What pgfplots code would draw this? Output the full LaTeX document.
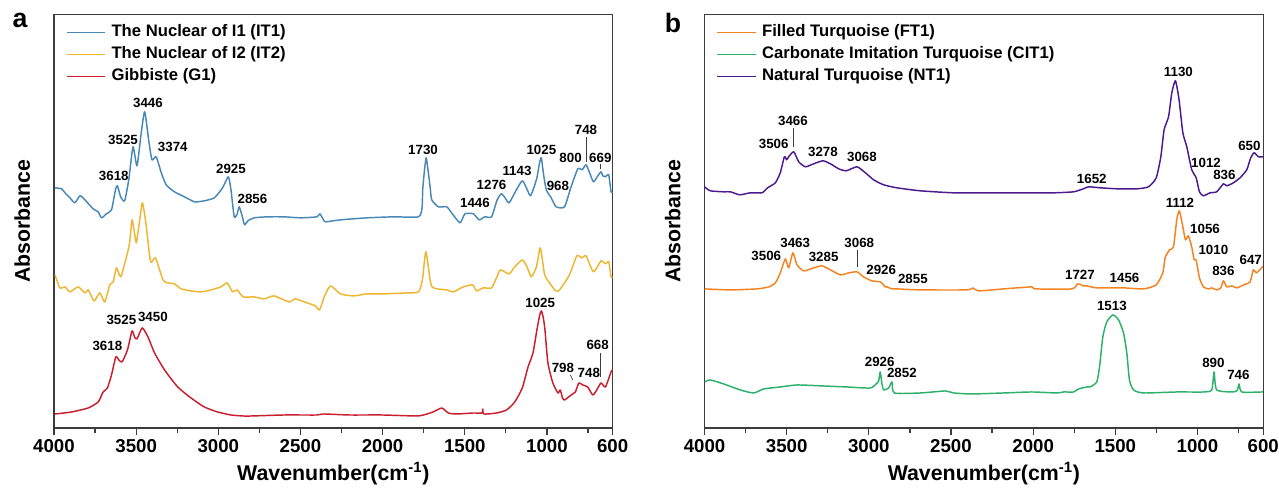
\documentclass[border=0pt]{standalone}
\usepackage{fontspec}
\setmainfont{Liberation Sans}
\usepackage{pgfplots}
\pgfplotsset{compat=1.18}
\definecolor{cIT1}{RGB}{72,136,184}
\definecolor{cIT2}{RGB}{238,182,48}
\definecolor{cG1}{RGB}{200,30,45}
\definecolor{cFT1}{RGB}{245,130,32}
\definecolor{cCIT}{RGB}{45,176,106}
\definecolor{cNT1}{RGB}{75,26,140}
\definecolor{frame}{RGB}{60,60,60}

\pgfplotsset{
  ftir/.style={
    scale only axis, width=419pt, height=310pt,
    xmin=600, xmax=4000, x dir=reverse, ymin=0, ymax=413,
    ytick=\empty,
    xtick={4000,3500,3000,2500,2000,1500,1000,600},
    minor xtick={3750,3250,2750,2250,1750,1250,750},
    xtick pos=lower, tick align=outside,
    major tick length=5pt, minor tick length=3.5pt,
    axis line style={line width=1pt, frame},
    every tick/.style={line width=0.9pt, frame},
    ticklabel style={font=\fontsize{14}{16}\selectfont\bfseries},
    /pgf/number format/assume math mode=true,
    /pgf/number format/1000 sep={},
    xlabel={Wavenumber(cm\textsuperscript{-1})},
    ylabel={Absorbance},
    label style={font=\fontsize{16}{18}\selectfont\bfseries},
    ylabel style={at={(axis description cs:-0.057,0.5)}, anchor=center},
    legend style={at={(0.014,0.983)}, anchor=north west, draw=none, fill=none,
      font=\fontsize{12.5}{14}\selectfont\bfseries, row sep=4.8pt, column sep=3pt,
      nodes={inner ysep=0pt, inner xsep=1pt, text height=9pt, text depth=2.7pt}},
    legend cell align=left,
    legend image code/.code={\draw[#1, line width=1.1pt] (0pt,0pt) -- (29pt,0pt);},
    every axis plot/.append style={line width=1.1pt, line join=round, smooth, tension=0.35},
  },
}
\tikzset{lbl/.style={font=\fontsize{10}{12}\selectfont\bfseries, inner sep=0pt}}

\begin{document}
\begin{tikzpicture}
\useasboundingbox (0pt,0pt) rectangle (959.25pt,-374.25pt);

\node[font=\fontsize{20}{22}\selectfont\bfseries] at (15pt,-15pt) {a};
\node[font=\fontsize{20}{22}\selectfont\bfseries] at (504.75pt,-17pt) {b};

% panel a
\begin{axis}[ftir, at={(40.5pt,-321pt)}, anchor=south west]
\addplot[cIT1] coordinates {
(3994,240)(3954,239)(3933,235)(3903,230)(3873,225)(3842,232)(3812,228)(3762,219)
(3731,216)(3711,210)(3681,214)(3650,218)(3626,238)(3614,242)(3594,231)(3570,227)
(3545,248)(3519,281)(3495,262)(3469,295)(3448,316)(3424,288)(3404,268)(3378,271)
(3347,255)(3317,243)(3267,236)(3206,231)(3145,226)(3085,227)(3024,230)(2974,240)
(2939,251)(2923,238)(2903,211)(2885,214)(2873,221)(2855,212)(2840,203)(2820,207)
(2782,210)(2701,211)(2600,211)(2499,210)(2400,211)(2382,214)(2360,208)(2347,206)
(2256,208)(2095,210)(1933,211)(1782,211)(1760,220)(1756,238)(1745,258)(1735,270)
(1724,258)(1711,241)(1701,228)(1661,221)(1610,221)(1580,215)(1529,205)(1499,214)
(1448,214)(1412,208)(1378,211)(1337,211)(1303,228)(1277,234)(1255,230)(1230,225)
(1186,238)(1150,247)(1125,240)(1101,232)(1080,240)(1061,250)(1045,265)(1034,270)
(1022,255)(1004,238)(974,230)(944,221)(893,221)(853,241)(812,259)(786,258)
(762,263)(740,255)(717,246)(690,252)(671,256)(660,252)(644,251)(624,253)
(610,236)(600,236)};
\addplot[cIT2] coordinates {
(3994,153)(3964,140)(3933,141)(3903,136)(3853,141)(3812,135)(3792,138)(3756,127)
(3721,135)(3691,126)(3661,143)(3640,146)(3620,160)(3594,151)(3559,171)(3540,185)
(3525,208)(3510,195)(3499,185)(3485,200)(3463,225)(3450,215)(3438,201)(3412,166)
(3382,170)(3337,148)(3307,145)(3267,144)(3226,139)(3166,137)(3105,136)(3044,138)
(2984,141)(2947,145)(2913,136)(2887,138)(2848,131)(2782,131)(2721,129)(2661,132)
(2570,126)(2531,129)(2459,125)(2409,122)(2384,118)(2353,132)(2317,142)(2256,134)
(2176,132)(2095,134)(1994,134)(1853,135)(1782,136)(1758,148)(1737,176)(1711,148)
(1699,141)(1669,139)(1610,138)(1570,136)(1509,141)(1453,143)(1428,137)(1388,140)
(1337,140)(1307,150)(1283,158)(1230,154)(1196,161)(1150,168)(1121,161)(1095,151)
(1064,161)(1040,180)(1014,153)(984,145)(947,137)(923,138)(863,153)(818,172)
(786,170)(762,172)(717,156)(671,167)(644,164)(624,166)(610,151)(600,151)};
\addplot[cG1] coordinates {
(3994,14)(3893,16)(3792,20)(3731,26)(3701,36)(3675,40)(3650,53)(3624,71)
(3605,68)(3586,66)(3553,78)(3525,97)(3510,91)(3495,89)(3463,100)(3428,91)
(3388,75)(3327,58)(3247,41)(3166,30)(3085,21)(3004,16)(2923,13)(2848,12)
(2800,12)(2600,13)(2400,13)(2360,14)(2200,13)(2000,13)(1800,12)(1751,13)
(1693,16)(1640,20)(1600,15)(1549,14)(1448,15)(1395,15)(1390,19)(1384,14)
(1307,15)(1246,18)(1196,26)(1150,40)(1115,61)(1085,75)(1061,98)(1045,112)
(1034,117)(1022,110)(1012,98)(994,65)(964,45)(933,35)(919,38)(905,30)
(893,28)(853,33)(827,36)(806,45)(782,43)(752,41)(721,33)(697,38)
(671,45)(644,41)(610,56)(600,58)};
\legend{The Nuclear of I1 (IT1), The Nuclear of I2 (IT2), Gibbiste (G1)}
% peak labels
\node[lbl] at (axis cs:3428,325) {3446};
\node[lbl] at (axis cs:3580,288) {3525};
\node[lbl] at (axis cs:3277,281) {3374};
\node[lbl] at (axis cs:3636,252) {3618};
\node[lbl] at (axis cs:2923,259) {2925};
\node[lbl] at (axis cs:2792,229) {2856};
\node[lbl] at (axis cs:1754,278) {1730};
\node[lbl] at (axis cs:1438,225) {1446};
\node[lbl] at (axis cs:1337,243) {1276};
\node[lbl] at (axis cs:1182,257) {1143};
\node[lbl] at (axis cs:1034,278) {1025};
\node[lbl] at (axis cs:933,242) {968};
\node[lbl] at (axis cs:856,270) {800};
\node[lbl] at (axis cs:762,298) {748};
\draw[frame, line width=0.5pt] (axis cs:762,291) -- (axis cs:762,266);
\node[lbl] at (axis cs:675,270) {669};
\draw[frame, line width=0.5pt] (axis cs:675,264) -- (axis cs:675,259);
\node[lbl] at (axis cs:3675,82) {3618};
\node[lbl] at (axis cs:3590,108) {3525};
\node[lbl] at (axis cs:3398,111) {3450};
\node[lbl] at (axis cs:1041,125) {1025};
\node[lbl] at (axis cs:903,60) {798};
\draw[frame, line width=0.5pt] (axis cs:858,53) -- (axis cs:843,48);
\node[lbl] at (axis cs:745,55) {748};
\node[lbl] at (axis cs:691,83) {668};
\draw[frame, line width=0.5pt] (axis cs:675,75) -- (axis cs:675,51);
\end{axis}

% panel b
\begin{axis}[ftir, at={(528.4pt,-321pt)}, anchor=south west]
\addplot[cFT1] coordinates {
(4000,139)(3842,138)(3680,139)(3609,141)(3569,145)(3539,155)(3508,169)(3488,160)
(3462,175)(3437,163)(3396,157)(3336,160)(3285,162)(3234,158)(3173,153)(3123,155)
(3072,156)(3032,151)(2981,147)(2930,146)(2900,141)(2890,141)(2859,139)(2829,139)
(2687,138)(2403,138)(2367,140)(2333,137)(2181,139)(2008,141)(1988,139)(1765,139)
(1730,144)(1694,142)(1673,142)(1612,140)(1450,140)(1328,139)(1251,143)(1211,155)
(1197,170)(1170,178)(1146,181)(1126,208)(1110,217)(1089,201)(1073,188)(1055,192)
(1035,181)(1020,168)(1008,168)(988,150)(964,141)(933,139)(913,140)(883,138)
(858,140)(842,147)(822,141)(791,142)(761,140)(720,143)(680,146)(660,158)
(640,155)(605,161)(600,162)};
\addplot[cCIT] coordinates {
(4000,46)(3965,48)(3883,44)(3782,38)(3701,35)(3640,39)(3539,41)(3437,43)
(3275,42)(3133,41)(2991,40)(2950,45)(2940,47)(2931,56)(2920,44)(2910,38)
(2880,40)(2859,46)(2845,35)(2687,35)(2535,37)(2484,35)(2373,34)(2181,35)
(2008,36)(1856,35)(1815,36)(1754,36)(1724,39)(1673,41)(1653,41)(1613,46)
(1596,61)(1576,91)(1552,106)(1515,113)(1480,108)(1450,95)(1430,75)(1414,48)
(1389,38)(1328,35)(1126,36)(964,36)(913,38)(899,56)(883,38)(781,36)
(757,38)(747,44)(730,36)(605,36)(600,36)};
\addplot[cNT1] coordinates {
(4000,241)(3965,237)(3883,236)(3842,236)(3786,233)(3721,235)(3650,235)(3616,240)
(3569,245)(3539,255)(3514,271)(3500,268)(3488,271)(3457,276)(3427,266)(3386,261)
(3336,264)(3279,267)(3234,264)(3184,259)(3137,257)(3072,261)(3021,255)(2971,248)
(2910,243)(2829,240)(2687,237)(2484,235)(2282,235)(2079,235)(1876,235)(1754,236)
(1694,239)(1663,241)(1592,240)(1491,239)(1369,239)(1298,241)(1251,250)(1223,271)
(1203,298)(1176,311)(1156,335)(1134,347)(1112,328)(1089,295)(1065,281)(1035,258)
(1008,250)(988,236)(964,232)(923,235)(883,236)(842,244)(822,242)(781,245)
(741,250)(700,258)(676,270)(655,275)(629,271)(605,271)(600,271)};
\legend{Filled Turquoise (FT1), Carbonate Imitation Turquoise (CIT1), Natural Turquoise (NT1)}
\node[lbl] at (axis cs:3462,307) {3466};
\draw[frame, line width=0.5pt] (axis cs:3462,300) -- (axis cs:3462,281);
\node[lbl] at (axis cs:3579,284) {3506};
\node[lbl] at (axis cs:3279,276) {3278};
\node[lbl] at (axis cs:3042,271) {3068};
\node[lbl] at (axis cs:1643,249) {1652};
\node[lbl] at (axis cs:1116,356) {1130};
\node[lbl] at (axis cs:948,265) {1012};
\node[lbl] at (axis cs:836,253) {836};
\node[lbl] at (axis cs:684,282) {650};
\node[lbl] at (axis cs:3624,172) {3506};
\node[lbl] at (axis cs:3448,185) {3463};
\node[lbl] at (axis cs:3275,171) {3285};
\node[lbl] at (axis cs:3058,185) {3068};
\draw[frame, line width=0.5pt] (axis cs:3072,178) -- (axis cs:3072,161);
\node[lbl] at (axis cs:2925,158) {2926};
\node[lbl] at (axis cs:2732,149) {2855};
\node[lbl] at (axis cs:1715,153) {1727};
\node[lbl] at (axis cs:1444,150) {1456};
\node[lbl] at (axis cs:1106,225) {1112};
\node[lbl] at (axis cs:954,199) {1056};
\node[lbl] at (axis cs:903,178) {1010};
\node[lbl] at (axis cs:842,157) {836};
\node[lbl] at (axis cs:676,168) {647};
\node[lbl] at (axis cs:2934,66) {2926};
\node[lbl] at (axis cs:2799,55) {2852};
\node[lbl] at (axis cs:1521,122) {1513};
\node[lbl] at (axis cs:903,65) {890};
\node[lbl] at (axis cs:751,53) {746};
\end{axis}
\end{tikzpicture}
\end{document}
